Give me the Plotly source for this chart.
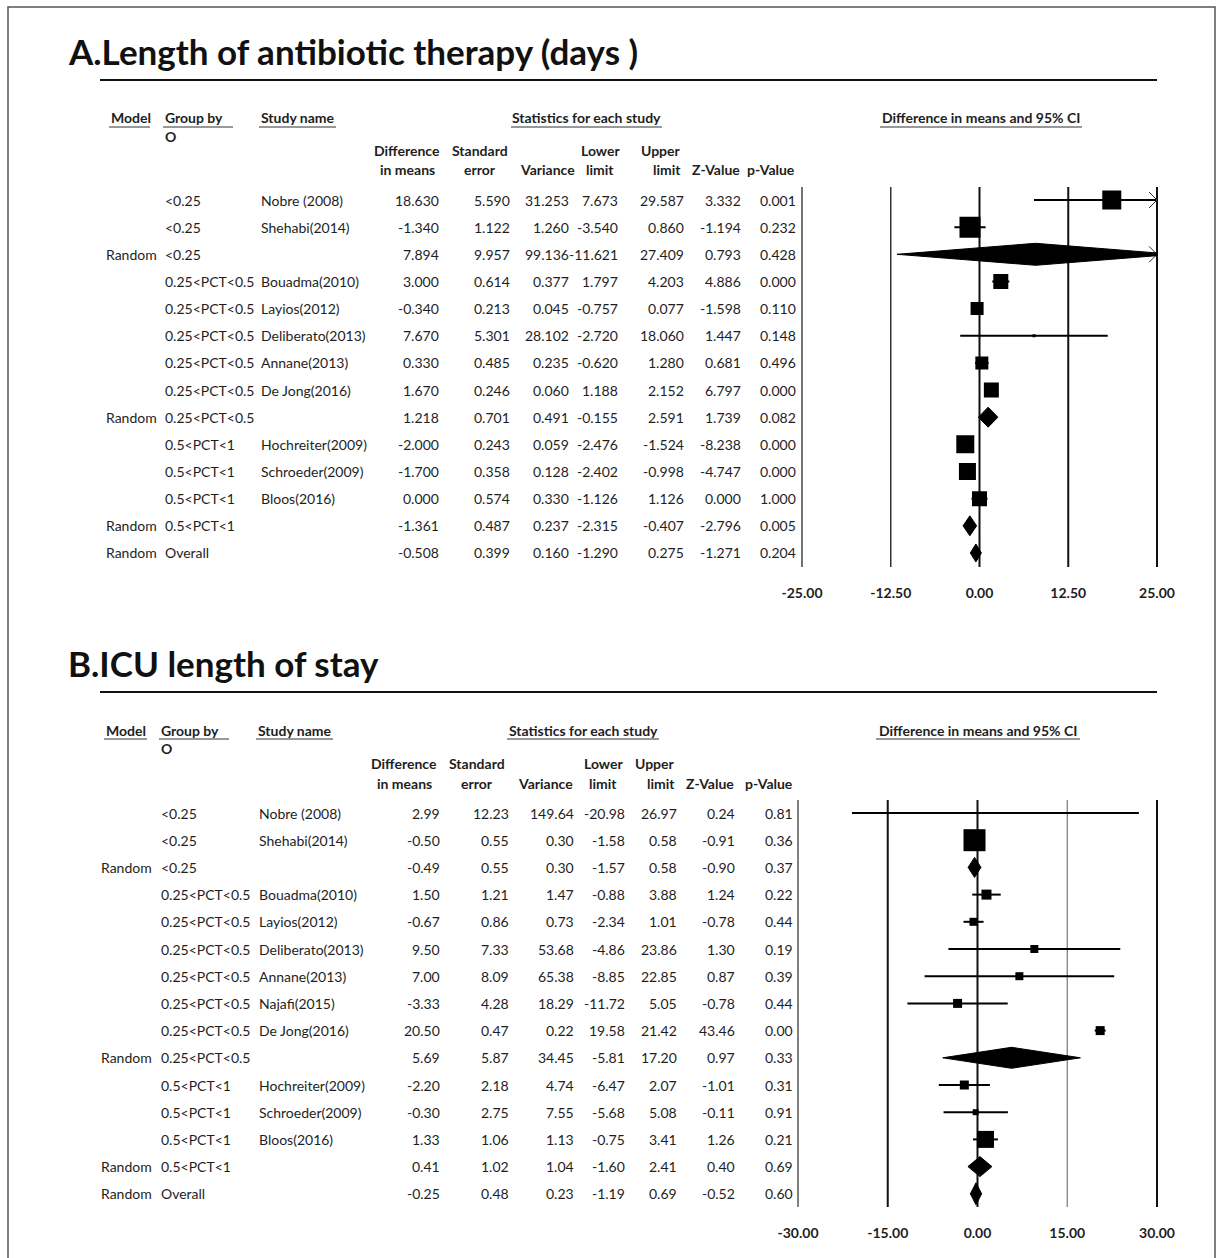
import plotly.graph_objects as go

W, H = 1217, 1258
FONT = "Lato"
TXT = "#1e1e1e"

# ---------------- Panel A data ----------------
A_title = "Length of antibiotic therapy (days )"
A_model = ["", "", "Random", "", "", "", "", "", "Random", "", "", "", "Random", "Random"]
A_group = ["<0.25", "<0.25", "<0.25", "0.25<PCT<0.5", "0.25<PCT<0.5", "0.25<PCT<0.5",
           "0.25<PCT<0.5", "0.25<PCT<0.5", "0.25<PCT<0.5", "0.5<PCT<1", "0.5<PCT<1",
           "0.5<PCT<1", "0.5<PCT<1", "Overall"]
A_study = ["Nobre (2008)", "Shehabi(2014)", "", "Bouadma(2010)", "Layios(2012)",
           "Deliberato(2013)", "Annane(2013)", "De Jong(2016)", "", "Hochreiter(2009)",
           "Schroeder(2009)", "Bloos(2016)", "", ""]
A_diff = [18.630, -1.340, 7.894, 3.000, -0.340, 7.670, 0.330, 1.670, 1.218, -2.000, -1.700, 0.000, -1.361, -0.508]
A_se = [5.590, 1.122, 9.957, 0.614, 0.213, 5.301, 0.485, 0.246, 0.701, 0.243, 0.358, 0.574, 0.487, 0.399]
A_var = [31.253, 1.260, 99.136, 0.377, 0.045, 28.102, 0.235, 0.060, 0.491, 0.059, 0.128, 0.330, 0.237, 0.160]
A_lo = [7.673, -3.540, -11.621, 1.797, -0.757, -2.720, -0.620, 1.188, -0.155, -2.476, -2.402, -1.126, -2.315, -1.290]
A_hi = [29.587, 0.860, 27.409, 4.203, 0.077, 18.060, 1.280, 2.152, 2.591, -1.524, -0.998, 1.126, -0.407, 0.275]
A_z = [3.332, -1.194, 0.793, 4.886, -1.598, 1.447, 0.681, 6.797, 1.739, -8.238, -4.747, 0.000, -2.796, -1.271]
A_p = [0.001, 0.232, 0.428, 0.000, 0.110, 0.148, 0.496, 0.000, 0.082, 0.000, 0.000, 1.000, 0.005, 0.204]
A_ticks = [-25, -12.5, 0, 12.5, 25]

# ---------------- Panel B data ----------------
B_title = "ICU length of stay"
B_model = ["", "", "Random", "", "", "", "", "", "", "Random", "", "", "", "Random", "Random"]
B_group = ["<0.25", "<0.25", "<0.25", "0.25<PCT<0.5", "0.25<PCT<0.5", "0.25<PCT<0.5",
           "0.25<PCT<0.5", "0.25<PCT<0.5", "0.25<PCT<0.5", "0.25<PCT<0.5", "0.5<PCT<1",
           "0.5<PCT<1", "0.5<PCT<1", "0.5<PCT<1", "Overall"]
B_study = ["Nobre (2008)", "Shehabi(2014)", "", "Bouadma(2010)", "Layios(2012)",
           "Deliberato(2013)", "Annane(2013)", "Najafi(2015)", "De Jong(2016)", "",
           "Hochreiter(2009)", "Schroeder(2009)", "Bloos(2016)", "", ""]
B_diff = [2.99, -0.50, -0.49, 1.50, -0.67, 9.50, 7.00, -3.33, 20.50, 5.69, -2.20, -0.30, 1.33, 0.41, -0.25]
B_se = [12.23, 0.55, 0.55, 1.21, 0.86, 7.33, 8.09, 4.28, 0.47, 5.87, 2.18, 2.75, 1.06, 1.02, 0.48]
B_var = [149.64, 0.30, 0.30, 1.47, 0.73, 53.68, 65.38, 18.29, 0.22, 34.45, 4.74, 7.55, 1.13, 1.04, 0.23]
B_lo = [-20.98, -1.58, -1.57, -0.88, -2.34, -4.86, -8.85, -11.72, 19.58, -5.81, -6.47, -5.68, -0.75, -1.60, -1.19]
B_hi = [26.97, 0.58, 0.58, 3.88, 1.01, 23.86, 22.85, 5.05, 21.42, 17.20, 2.07, 5.08, 3.41, 2.41, 0.69]
B_z = [0.24, -0.91, -0.90, 1.24, -0.78, 1.30, 0.87, -0.78, 43.46, 0.97, -1.01, -0.11, 1.26, 0.40, -0.52]
B_p = [0.81, 0.36, 0.37, 0.22, 0.44, 0.19, 0.39, 0.44, 0.00, 0.33, 0.31, 0.91, 0.21, 0.69, 0.60]
B_ticks = [-30, -15, 0, 15, 30]

# ---------------- styles (pixel sizes of study boxes / diamond heights) ----------------
A_box_px = [19, 21, 0, 15, 13, 3, 13, 15, 0, 18, 17, 15, 0, 0]
A_dia_px = [0, 0, 22, 0, 0, 0, 0, 0, 20, 0, 0, 0, 20, 18]
B_box_px = [2, 22, 0, 10, 8, 8, 8, 9, 9, 0, 9, 6, 17, 0, 0]
B_dia_px = [0, 0, 20, 0, 0, 0, 0, 0, 0, 21, 0, 0, 0, 20, 22]

PANELS = [
    dict(letter="A.", title=A_title, model=A_model, group=A_group, study=A_study,
         diff=A_diff, se=A_se, var=A_var, lo=A_lo, hi=A_hi, z=A_z, p=A_p, ticks=A_ticks,
         box=A_box_px, dia=A_dia_px, dec=3,
         xa="x", ya="y", title_y=51, rule_y=80, head_y=118, o_y=136, sub1_y=151, sub2_y=170,
         ul_y=127, row0=200, step=27.15, top=187, bottom=567, xpx=(802, 1157),
         model_x=104, group_x=163, study_x=259,
         cols=[441, 512, 571, 620, 686, 743, 798],
         heads=[("Difference", "in means", 407, "center"), ("Standard", "error", 480, "center"),
                ("", "Variance", 577, "right"), ("Lower", "limit", 600, "center"),
                ("Upper", "limit", 683, "right"), ("", "Z-Value", 742, "right"),
                ("", "p-Value", 797, "right")],
         ul=[(109, 150), (163, 233), (259, 336), (511, 662), (880, 1082)],
         stats_c=586.5, ci_c=981,
         gl_w=[1.5, 1.5, 2, 2, 2], gl_c=["#444", "#333", "#111", "#111", "#111"]),
    dict(letter="B.", title=B_title, model=B_model, group=B_group, study=B_study,
         diff=B_diff, se=B_se, var=B_var, lo=B_lo, hi=B_hi, z=B_z, p=B_p, ticks=B_ticks,
         box=B_box_px, dia=B_dia_px, dec=2,
         xa="x2", ya="y2", title_y=663, rule_y=692, head_y=730, o_y=748, sub1_y=764, sub2_y=783,
         ul_y=739, row0=813, step=27.2, top=800, bottom=1207, xpx=(798, 1157),
         model_x=99, group_x=159, study_x=257,
         cols=[442, 511, 576, 627, 679, 737, 795],
         heads=[("Difference", "in means", 404, "center"), ("Standard", "error", 477, "center"),
                ("", "Variance", 575, "right"), ("Lower", "limit", 603, "center"),
                ("Upper", "limit", 677, "right"), ("", "Z-Value", 736, "right"),
                ("", "p-Value", 795, "right")],
         ul=[(104, 147), (159, 229), (256, 333), (507, 659), (876, 1080)],
         stats_c=583, ci_c=978,
         gl_w=[1.5, 2, 2, 1.2, 2], gl_c=["#555", "#111", "#111", "#777", "#111"]),
]


def PX(p):
    return p / W


def PY(p):
    return 1 - p / H


def esc(s):
    return s.replace("<", "&lt;").replace(">", "&gt;")


fig = go.Figure()
annots = []
shapes = []
layout_axes = {}

# outer frame
shapes.append(dict(type="rect", xref="paper", yref="paper", x0=PX(8), x1=PX(1215),
                   y0=PY(1275), y1=PY(7), line=dict(color="#555", width=1.5)))

for k, P in enumerate(PANELS):
    xa, ya = P["xa"], P["ya"]
    lim = max(abs(t) for t in P["ticks"])
    x0px, x1px = P["xpx"]
    upp = (x1px - x0px) / (2 * lim)  # pixels per unit
    pad = 0.5
    dom_x = [PX(x0px - pad * upp), PX(x1px + pad * upp)]
    r_top = (P["top"] - P["row0"]) / P["step"]
    r_bot = (P["bottom"] - P["row0"]) / P["step"]
    dom_y = [PY(P["bottom"]), PY(P["top"])]
    n = len(P["diff"])
    axn = "" if k == 0 else "2"
    layout_axes["xaxis" + axn] = dict(
        domain=dom_x, range=[-lim - pad, lim + pad], anchor=ya, showgrid=False, zeroline=False,
        showline=False, ticks="", tickvals=P["ticks"], automargin=False,
        ticktext=["<b>%.2f</b>" % t for t in P["ticks"]],
        tickfont=dict(family=FONT, size=14, color=TXT), ticklabelstandoff=16, fixedrange=True)
    layout_axes["yaxis" + axn] = dict(
        domain=dom_y, range=[r_bot, r_top], anchor=xa, visible=False, fixedrange=True,
        automargin=False)

    # vertical reference lines
    for t, w, c in zip(P["ticks"], P["gl_w"], P["gl_c"]):
        shapes.append(dict(type="line", xref=xa, yref=ya + " domain", x0=t, x1=t, y0=0, y1=1,
                           line=dict(color=c, width=w), layer="below"))

    # confidence interval lines for individual studies
    xs, ys = [], []
    arrows_x, arrows_y = [], []
    dx = 8 / upp
    dy = 8 / P["step"]
    for i in range(n):
        if P["hi"][i] > lim:
            arrows_x += [lim - dx, lim, lim - dx, None]
            arrows_y += [i - dy, i, i + dy, None]
        if P["model"][i] == "Random":
            continue
        xs += [max(P["lo"][i], -lim), min(P["hi"][i], lim), None]
        ys += [i, i, None]
    fig.add_trace(go.Scatter(x=xs, y=ys, mode="lines", line=dict(color="black", width=2),
                             xaxis=xa, yaxis=ya, hoverinfo="skip", showlegend=False))
    if arrows_x:
        fig.add_trace(go.Scatter(x=arrows_x, y=arrows_y, mode="lines",
                                 line=dict(color="#333", width=1),
                                 xaxis=xa, yaxis=ya, hoverinfo="skip", showlegend=False))
    # study boxes
    idx = [i for i in range(n) if P["model"][i] != "Random"]
    fig.add_trace(go.Scatter(x=[P["diff"][i] for i in idx], y=idx, mode="markers",
                             marker=dict(symbol="square", size=[P["box"][i] for i in idx],
                                         color="black", opacity=1, line=dict(width=0)),
                             xaxis=xa, yaxis=ya, hoverinfo="skip", showlegend=False))
    # pooled diamonds
    for i in range(n):
        if P["model"][i] != "Random":
            continue
        h = P["dia"][i] / 2 / P["step"]
        lo, est, hi = P["lo"][i], P["diff"][i], P["hi"][i]
        if hi > lim:
            h2 = h * (hi - lim) / (hi - est)
            px_ = [lo, est, lim, lim, est, lo]
            py_ = [i, i - h, i - h2, i + h2, i + h, i]
        else:
            px_ = [lo, est, hi, est, lo]
            py_ = [i, i - h, i, i + h, i]
        fig.add_trace(go.Scatter(x=px_, y=py_, mode="lines", fill="toself", fillcolor="black",
                                 line=dict(color="black", width=1),
                                 xaxis=xa, yaxis=ya, hoverinfo="skip", showlegend=False))

    # ---- title and rule
    annots.append(dict(text="<b>%s%s</b>" % (P["letter"], P["title"]), xref="paper", yref="paper",
                       x=PX(66), y=PY(P["title_y"]), xanchor="left", yanchor="middle",
                       showarrow=False, font=dict(family=FONT, size=35, color="#111")))
    shapes.append(dict(type="line", xref="paper", yref="paper", x0=PX(100), x1=PX(1157),
                       y0=PY(P["rule_y"]), y1=PY(P["rule_y"]), line=dict(color="#111", width=2)))

    # ---- headers
    hf = dict(family=FONT, size=14, color=TXT)

    def hdr(text, xp, yp, anchor):
        annots.append(dict(text="<b>%s</b>" % text, xref="paper", yref="paper", x=PX(xp), y=PY(yp),
                           xanchor=anchor, yanchor="middle", showarrow=False, font=hf))

    hdr("Model", P["ul"][0][0], P["head_y"], "left")
    hdr("Group by", P["ul"][1][0], P["head_y"], "left")
    hdr("O", P["ul"][1][0], P["o_y"], "left")
    hdr("Study name", P["ul"][2][0], P["head_y"], "left")
    hdr("Statistics for each study", P["stats_c"], P["head_y"], "center")
    hdr("Difference in means and 95% CI", P["ci_c"], P["head_y"], "center")
    for l1, l2, xp, anc in P["heads"]:
        if l1:
            hdr(l1, xp, P["sub1_y"], anc)
        hdr(l2, xp, P["sub2_y"], anc)
    for a, b in P["ul"]:
        shapes.append(dict(type="line", xref="paper", yref="paper", x0=PX(a), x1=PX(b),
                           y0=PY(P["ul_y"]), y1=PY(P["ul_y"]), line=dict(color="#333", width=1)))

    # ---- table rows
    rf = dict(family=FONT, size=14, color=TXT)
    d = P["dec"]
    for i in range(n):
        def cell(text, xp, anc):
            if text == "":
                return
            annots.append(dict(text=esc(text), xref="paper", yref=ya, x=PX(xp), y=i,
                               xanchor=anc, yanchor="middle", showarrow=False, font=rf))
        cell(P["model"][i], P["model_x"], "left")
        cell(P["group"][i], P["group_x"], "left")
        cell(P["study"][i], P["study_x"], "left")
        vals = [P["diff"][i], P["se"][i], P["var"][i], P["lo"][i], P["hi"][i], P["z"][i], P["p"][i]]
        for v, xp in zip(vals, P["cols"]):
            cell(f"{v:.{d}f}", xp, "right")

fig.update_layout(
    width=W, height=H, margin=dict(l=0, r=0, t=0, b=0, pad=0, autoexpand=False), autosize=False,
    paper_bgcolor="white", plot_bgcolor="white",
    showlegend=False, annotations=annots, shapes=shapes, **layout_axes)

POST = """
document.documentElement.style.margin='0px';
document.body.style.margin='0px';
document.body.style.padding='0px';
document.body.style.overflow='hidden';
"""

fig.write_html("out.html", config={"responsive": False, "displayModeBar": False},
               post_script=POST)
